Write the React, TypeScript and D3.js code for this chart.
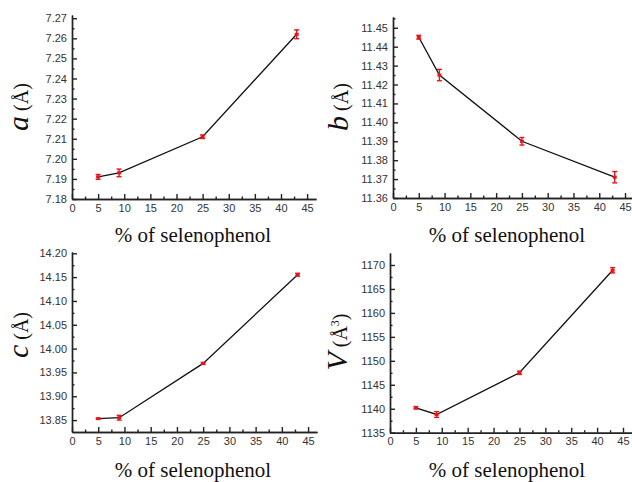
import React, { useEffect, useRef } from "react";
import * as d3 from "d3";

// % of selenophenol
const pct = [5, 9, 25, 43];
const xTicks = [0, 5, 10, 15, 20, 25, 30, 35, 40, 45];

// lattice parameters
const aVals = [7.191, 7.193, 7.211, 7.262];
const aErrs = [0.0012, 0.0019, 0.0009, 0.0022];
const aTicks = [7.18, 7.19, 7.2, 7.21, 7.22, 7.23, 7.24, 7.25, 7.26, 7.27];

const bVals = [11.445, 11.425, 11.39, 11.371];
const bErrs = [0.001, 0.003, 0.002, 0.003];
const bTicks = [11.36, 11.37, 11.38, 11.39, 11.4, 11.41, 11.42, 11.43, 11.44, 11.45];

const cVals = [13.853, 13.855, 13.969, 14.155];
const cErrs = [0.001, 0.005, 0.002, 0.003];
const cTicks = [13.85, 13.9, 13.95, 14.0, 14.05, 14.1, 14.15, 14.2];

const vVals = [1140.2, 1138.8, 1147.5, 1168.9];
const vErrs = [0.25, 0.6, 0.35, 0.55];
const vTicks = [1135, 1140, 1145, 1150, 1155, 1160, 1165, 1170];

const SERIF = "Liberation Serif, DejaVu Serif, serif";
const SANS = "Liberation Sans, Arial, sans-serif";

const panels = [
  { id: "a", vals: aVals, errs: aErrs, ticks: aTicks, fmt: ".2f", yDom: [7.18, 7.2716], xRange: [72, 316], yRange: [199, 15], label: [28, 107], title: [193, 242] },
  { id: "b", vals: bVals, errs: bErrs, ticks: bTicks, fmt: ".2f", yDom: [11.36, 11.4557], xRange: [393, 633.8], yRange: [198, 17], label: [348, 107], title: [507, 242] },
  { id: "c", vals: cVals, errs: cErrs, ticks: cTicks, fmt: ".2f", yDom: [13.825, 14.2027], xRange: [72, 317], yRange: [432, 252], label: [28, 335], title: [193, 477] },
  { id: "V", vals: vVals, errs: vErrs, ticks: vTicks, fmt: "d", yDom: [1135, 1172.5], xRange: [390, 631.8], yRange: [432.7, 253], label: [347, 342], title: [507, 477] },
];

const App = () => {
  const ref = useRef(null);

  useEffect(() => {
    const svg = d3.select(ref.current);
    svg.selectAll("*").remove();

    panels.forEach(p => {
      const x = d3.scaleLinear().domain([0, 46.7]).range(p.xRange);
      const y = d3.scaleLinear().domain(p.yDom).range(p.yRange);
      const g = svg.append("g").attr("class", "panel-" + p.id);

      const step = p.ticks[1] - p.ticks[0];
      const yMinor = p.ticks.map(t => t + step / 2).filter(t => t < p.yDom[1]);
      const xMinor = xTicks.map(t => t + 2.5).filter(t => t < 46.7);

      // minor ticks
      g.append("g")
        .attr("transform", `translate(0,${p.yRange[0]})`)
        .call(d3.axisBottom(x).tickValues(xMinor).tickSizeInner(-2.5).tickSizeOuter(0).tickFormat(() => ""));
      g.append("g")
        .attr("transform", `translate(${p.xRange[0]},0)`)
        .call(d3.axisLeft(y).tickValues(yMinor).tickSizeInner(-2.5).tickSizeOuter(0).tickFormat(() => ""));

      // major ticks
      const xa = g.append("g")
        .attr("transform", `translate(0,${p.yRange[0]})`)
        .call(d3.axisBottom(x).tickValues(xTicks).tickSizeInner(-5).tickSizeOuter(0).tickPadding(5).tickFormat(d3.format("d")));
      const ya = g.append("g")
        .attr("transform", `translate(${p.xRange[0]},0)`)
        .call(d3.axisLeft(y).tickValues(p.ticks).tickSizeInner(-5).tickSizeOuter(0).tickPadding(5).tickFormat(d3.format(p.fmt)));

      [xa, ya].forEach(ax => {
        ax.attr("font-family", SANS).attr("font-size", 11);
        ax.selectAll("text").attr("fill", "#333");
      });
      g.selectAll("path.domain, line").attr("stroke", "#222").attr("stroke-width", 1.4);

      const pts = pct.map((v, i) => ({ x: v, y: p.vals[i], e: p.errs[i] }));

      g.append("path")
        .datum(pts)
        .attr("fill", "none")
        .attr("stroke", "#111")
        .attr("stroke-width", 1.3)
        .attr("d", d3.line().x(d => x(d.x)).y(d => y(d.y)));

      const eb = g.selectAll("g.err").data(pts).enter().append("g").attr("class", "err");
      eb.append("line")
        .attr("x1", d => x(d.x)).attr("x2", d => x(d.x))
        .attr("y1", d => y(d.y - d.e)).attr("y2", d => y(d.y + d.e));
      eb.append("line")
        .attr("x1", d => x(d.x) - 2.5).attr("x2", d => x(d.x) + 2.5)
        .attr("y1", d => y(d.y - d.e)).attr("y2", d => y(d.y - d.e));
      eb.append("line")
        .attr("x1", d => x(d.x) - 2.5).attr("x2", d => x(d.x) + 2.5)
        .attr("y1", d => y(d.y + d.e)).attr("y2", d => y(d.y + d.e));
      eb.selectAll("line").attr("stroke", "#e8141c").attr("stroke-width", 1.4);
      eb.append("rect")
        .attr("x", d => x(d.x) - 2).attr("y", d => y(d.y) - 1.5)
        .attr("width", 4).attr("height", 3)
        .attr("fill", "#e8141c");

      // axis titles
      g.append("text")
        .attr("x", p.title[0]).attr("y", p.title[1])
        .attr("text-anchor", "middle")
        .style("font-family", SERIF)
        .style("font-size", "21px")
        .attr("fill", "#111")
        .text("% of selenophenol");

      const lab = g.append("text")
        .attr("transform", `translate(${p.label[0]},${p.label[1]}) rotate(-90)`)
        .attr("text-anchor", "middle")
        .style("font-family", SERIF)
        .attr("fill", "#111");
      lab.append("tspan").style("font-style", "italic").style("font-size", "30px").text(p.id);
      lab.append("tspan").style("font-size", "20px").text(" (Å");
      if (p.id === "V") {
        lab.append("tspan").style("font-size", "12px").attr("dy", -8).text("3");
        lab.append("tspan").style("font-size", "20px").attr("dy", 8).text(")");
      } else {
        lab.append("tspan").style("font-size", "20px").text(")");
      }
    });
  }, []);

  return (
    <svg
      ref={ref}
      width={632}
      height={482}
      style={{ position: "fixed", left: 0, top: 0, background: "#fff" }}
    />
  );
};

export default App;
